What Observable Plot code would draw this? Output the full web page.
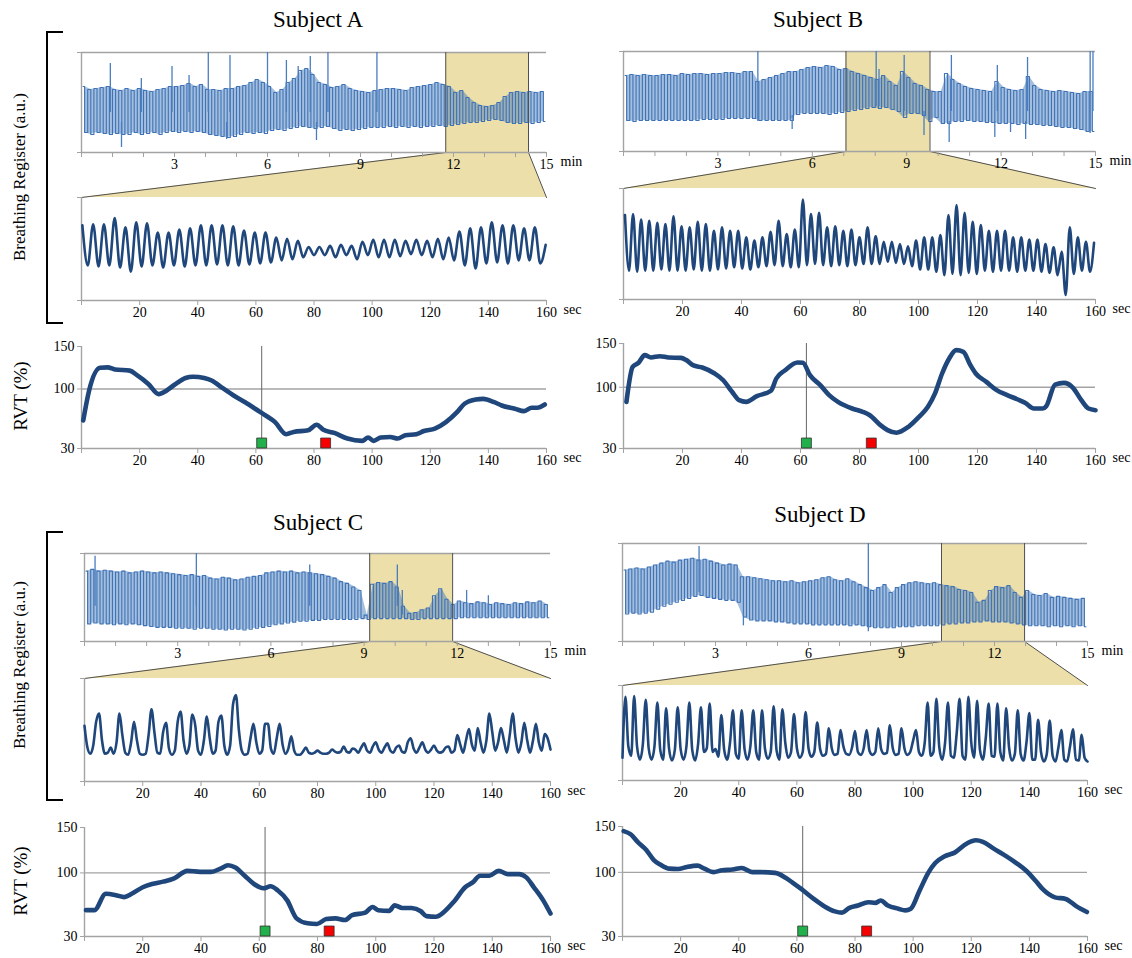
<!DOCTYPE html>
<html>
<head>
<meta charset="utf-8">
<script src="https://cdn.jsdelivr.net/npm/d3@7"></script>
<script src="https://cdn.jsdelivr.net/npm/@observablehq/plot@0.6"></script>
<style>
  body { margin: 0; background: #fff; }
  #fig { position: relative; width: 1132px; height: 958px; font-family: "Liberation Serif", "Times New Roman", serif; color: #000; }
  #fig svg text { font-family: "Liberation Serif", "Times New Roman", serif; }
  .title { position: absolute; font-size: 23px; transform: translate(-50%, -50%); white-space: nowrap; }
  .vlabel { position: absolute; transform: translate(-50%, -50%) rotate(-90deg); white-space: nowrap; }
  .bracket { position: absolute; border: 2px solid #000; border-right: none; width: 17px; box-sizing: border-box; }
</style>
</head>
<body>
<div id="fig"></div>
<script>
// ---------------------------------------------------------------------------
// Breathing recordings: 15-min overview (trace units 0-100), 160-s detail
// window (0-100) and respiration volume per time (RVT, %) for four subjects.
// Overview traces: one peak and one trough per 12-s window, plus isolated
// artefact spikes [min, low, high].
// ---------------------------------------------------------------------------

// ---- Subject A ----
const ovPeakA = [66,63,64,65,66, 63,62,64,62,64, 62,61,63,64,66, 66,67,69,66,68, 63,63,62,64,64,
  66,67,70,73,70, 66,60,63,70,74, 82,84,78,70,68, 65,66,68,64,62, 61,60,62,63,64,
  64,63,62,65,66, 67,68,70,68,66, 60,62,55,50,47, 46,47,50,56,60, 61,60,61,60,61];
const ovTroughA = [20,18,20,19,18, 19,18,18,20,18, 19,20,18,20,21, 20,21,20,21,20, 18,17,16,15,16,
  18,20,19,20,19, 22,23,22,24,25, 26,25,24,25,26, 24,22,23,22,23, 24,25,25,25,26,
  25,26,25,26,25, 26,26,27,26,27, 28,29,30,30,31, 32,33,32,30,29, 29,30,29,30,31];
const ovSpikeA = [[0.93,40,89],[1.29,5,30],[1.93,40,74],[2.92,40,86],[3.47,40,77],[4.09,40,100],
  [4.68,13,30],[4.79,40,97],[6.0,20,100],[6.61,40,92],[6.99,40,86],[7.38,40,96],[7.58,12,30],
  [7.95,40,100],[9.53,40,100]];
const spanA = [11.75, 14.42];
// detail window: alternating breath peaks and troughs
const zoomA = [73,34,74,33,74,34,80,32,71,28,76,33,75,34,66,32,66,34,69,33,70,34,73,34,73,35,73,34,72,34,68,35,66,36,66,37,
  61,39,60,40,58,42,52,44,52,44,53,42,54,44,53,40,57,44,59,42,59,42,59,43,58,45,59,44,58,42,60,40,61,39,
  67,34,70,31,71,36,76,37,73,36,73,39,70,39,71,36,54];
const rvtA = [[0.6,63],[2.6,98],[6.4,125],[9,125.5],[11.5,123],[16.6,121.6],[19.2,116],[23,106],[26.6,94],
  [28.2,96],[32,105],[35.8,113],[38.4,114.5],[42.2,113],[44.8,110],[48.6,101],[52.5,92],[56.3,84.5],
  [61.4,73],[66.6,61],[70.4,46.8],[73,49.5],[78,51.4],[80.9,58],[83.2,52],[87,48.3],[91.5,41.7],
  [96.6,39],[98.6,43],[100.5,39],[103,43],[106.2,43.6],[108.8,41.7],[111.4,45.6],[115.2,46.8],
  [117.8,50.6],[121.6,53.4],[125.4,61],[129.3,73],[131.8,82.6],[135.7,87.7],[138.2,88.4],[142,84.5],
  [144.6,80.6],[149.1,76.8],[152.3,74],[154.9,78],[156.8,78],[159.4,81.8]];

// ---- Subject B ----
const ovPeakB = [76,77,76,77,76, 76,77,77,76,78, 77,78,78,77,78, 78,79,79,78,80, 80,70,72,74,76,
  78,80,80,82,84, 85,84,86,85,82, 83,80,78,76,74, 72,76,70,66,80, 74,68,66,62,60,
  60,78,72,68,65, 63,62,61,60,70, 64,62,61,62,75, 66,62,61,60,61, 60,59,58,60,60];
const ovTroughB = [31,30,31,31,31, 31,31,31,31,31, 31,31,32,32,32, 32,33,33,33,33, 33,31,31,31,31,
  31,31,37,38,38, 38,38,37,38,39, 40,41,42,43,44, 43,44,42,40,34, 38,38,36,30,34,
  28,28,30,30,31, 30,30,29,29,28, 28,28,27,28,27, 27,26,26,25,24, 24,23,22,20,20];
const ovSpikeB = [[4.27,30,100],[5.36,22,36],[8.03,45,100],[8.12,45,82],[8.92,40,96],[9.55,16,40],
  [10.35,9,30],[10.42,40,96],[11.8,14,30],[11.88,40,86],[12.3,19,30],[12.78,12,30],[12.84,40,94],
  [14.83,18,100],[14.92,40,100]];
const spanB = [7.07, 9.74];
const zoomB = [76,26,77,25,72,26,71,26,69,27,68,26,75,26,66,26,65,27,70,26,
  68,26,62,27,65,28,62,29,62,28,56,27,53,29,56,30,61,31,71,30,
  59,29,63,29,90,31,77,32,78,31,65,30,66,31,62,30,63,31,56,32,
  65,32,57,32,52,34,52,33,50,32,48,30,53,27,56,27,56,25,58,22,
  76,23,85,22,78,24,70,23,67,26,62,25,62,26,62,26,56,25,56,26,
  54,26,54,25,50,24,47,22,43,4,65,23,56,26,52,25,51];
const rvtB = [[1,83.3],[3.1,123.3],[5.1,128],[7.2,136.7],[9.3,134],[12.3,135.5],[15.3,134],[19.5,133.6],
  [21.3,131],[23.7,125],[26.7,122.6],[30.9,115.7],[33.8,108],[36.8,94.8],[39.2,85.2],[41.6,83.3],
  [45.2,89.8],[50,96],[51.8,110],[54.8,119.5],[59,128.3],[60.8,127.9],[63.2,113.8],[66.7,102.4],
  [69.7,91],[72.7,83.3],[77.5,75.7],[81.1,71.9],[83.5,68],[87.1,56.7],[89.5,51],[92.5,48],[96.6,54.8],
  [100.2,66.2],[103.2,77.6],[105.6,92.9],[108,115.7],[110.4,132.9],[112.8,142.4],[115.2,140.5],
  [117.6,125.2],[119.4,115.7],[123,106.2],[126.5,96.7],[130.1,91],[133.7,86],[136.1,82.2],[139.1,75.7],
  [142.1,75.7],[143.3,78.4],[146.3,103.1],[149.3,105],[152.3,99.7],[155.2,85.2],[157.6,75.7],[160,73.8]];

// ---- Subject C ----
const ovPeakC = [80,82,80,81,80, 79,80,78,79,80, 79,78,79,78,77, 76,75,76,74,75, 72,71,73,72,70,
  71,73,74,75,78, 79,80,79,80,78, 79,78,77,76,74, 72,68,66,62,58, 30,65,67,66,68,
  62,40,32,33,36, 38,52,60,48,42, 46,44,43,45,44, 42,44,43,42,44, 43,45,44,46,42];
const ovTroughC = [20,21,20,20,19, 20,19,20,19,18, 17,16,16,16,15, 15,15,14,15,15, 14,14,13,14,14,
  13,14,15,16,17, 19,20,21,22,23, 23,24,24,25,25, 25,25,25,25,26, 25,26,26,26,26,
  26,26,25,25,26, 26,26,26,26,26, 27,27,27,27,27, 27,27,27,27,27, 27,27,27,27,27];
const ovSpikeC = [[0.34,40,97],[3.6,40,100],[7.25,40,87],[10.07,40,87],[10.23,30,58],[12.3,30,58],[13.0,30,52]];
const spanC = [9.18, 11.85];
// detail window: one sample per second
const zoomC = [54,33,27,35,58,66,40,27,28,33, 27,38,66,45,28,26,38,58,40,27,
  26,27,45,70,48,28,27,48,57,32, 26,30,58,68,40,27,35,65,55,30,
  26,40,63,42,27,30,58,64,35,26, 35,75,84,50,30,26,27,42,56,38,
  27,30,56,56,32,27,42,56,36,27, 32,44,30,26,26,29,33,28,27,28,
  30,28,27,27,28,31,29,28,29,34, 29,28,32,31,28,33,37,30,28,34,
  38,31,28,33,37,30,28,33,35,29, 28,38,42,32,28,33,38,31,28,31,
  35,30,28,29,33,34,28,30,45,36, 28,40,51,36,30,52,38,28,40,66,
  48,30,38,52,40,28,45,66,42,28, 38,57,40,28,40,56,38,30,46,42, 31];
const rvtC = [[0.5,59],[3.4,59],[7.3,77],[11.1,75.2],[13.6,73.4],[16.2,77],[20,84.2],[23.2,87.8],[27,90.4],
  [30.8,94],[35.3,102.3],[39.7,101.2],[43.5,101.2],[46.7,104.8],[49.3,108.4],[51.8,105.9],[55,96.9],
  [58.2,87.8],[61.4,83.1],[63.9,85.3],[66.4,80.6],[69.6,69.8],[72.8,50],[76.6,44.5],[79.8,43.7],
  [83,49.2],[86.2,50],[89.4,48.1],[91.9,53.5],[96.4,56.4],[98.9,62.5],[100.8,58.9],[104.6,58.2],
  [106.5,64.3],[109.1,61.4],[112.3,61.4],[115.5,57.8],[117.4,52.4],[120.6,51.7],[123.7,57.8],
  [126.9,68.6],[130.7,84.2],[133.3,89.6],[135.8,96.9],[139,96.9],[142.2,102.3],[145.4,98.7],
  [149.2,98.7],[151.7,95.1],[154.3,84.2],[157.5,69.8],[160,55.3]];

// ---- Subject D ----
const ovPeakD = [73,74,75,74,76, 78,80,82,81,83, 84,85,83,84,82, 80,78,79,78,66, 66,65,64,63,62,
  62,61,62,60,61, 62,63,65,66,63, 62,64,61,58,55, 52,55,58,50,55, 58,60,61,60,59,
  60,58,57,56,53, 52,50,40,42,52, 56,55,57,50,45, 52,48,47,49,45, 46,45,44,43,44];
const ovTroughD = [28,29,28,29,30, 33,36,38,40,42, 44,46,47,45,44, 43,42,42,40,25, 22,21,21,21,20,
  20,19,18,18,18, 17,17,17,17,17, 17,16,17,16,15, 14,14,14,14,15, 15,15,16,16,16,
  16,17,18,18,19, 19,20,20,21,20, 20,20,19,18,17, 16,16,16,15,16, 15,16,15,16,15];
const ovSpikeD = [[2.47,50,97],[3.9,16,30],[7.93,10,100]];
const spanD = [10.29, 12.97];
const zoomD = [24,88,36,26,89,36,22,38,85,34, 22,36,82,32,22,76,34,21,32,77,
  33,22,36,82,32,21,38,77,30,34, 81,30,33,25,69,32,22,40,74,28,
  23,74,33,22,36,74,30,22,74,34, 23,30,78,32,22,75,40,24,30,70,
  34,24,30,72,34,25,30,61,33,26, 28,55,34,27,28,53,36,28,27,35,
  52,30,27,34,53,31,27,30,55,33, 28,29,58,34,27,28,55,34,27,30,
  42,53,30,26,40,82,26,30,86,35, 22,40,82,26,24,50,86,26,22,88,
  40,24,84,32,22,45,81,26,25,81, 30,21,76,35,21,28,74,28,21,40,
  71,22,22,64,30,20,28,63,26,20, 35,53,22,20,36,54,22,21,48,24, 20];
const rvtD = [[0.4,145],[2.8,141.5],[5.2,133.3],[8.2,124.4],[10.7,113.7],[13.1,108.3],[16.1,104],[19.1,103.7],
  [22.2,105.9],[25.8,107.3],[28.2,104],[31.3,100.2],[34.3,102.3],[37.9,103],[41,104.8],[44.6,100.2],
  [47.6,100.2],[52.5,99.4],[56.1,94.1],[58.5,88.8],[61.6,81.6],[65.8,71],[69.4,63.1],[73.1,57.4],
  [75.5,56],[77.9,61],[81,63.8],[84.6,67.4],[87,66.7],[88.8,69.2],[91.3,63.8],[94.9,60.3],[97.3,58.5],
  [99.2,60.3],[102.2,79.9],[105.2,99.4],[107.6,110.1],[110.7,117.2],[114.3,121.5],[118.5,131.5],
  [121.6,135],[124,133.3],[127.6,126.1],[131.3,119],[135.5,110.1],[139.1,101.2],[142.2,90.5],
  [144.6,81.6],[148.8,72.7],[152.5,71],[156.1,63.1],[159.8,56.7]];

// cue onset (green) and offset (red), seconds into the detail window
const cueTimes = [62, 84];

// axis ticks and labels
const minTicks = d3.range(0, 16);
const secTicks = d3.range(0, 161, 20);
const rvtTicks = [30, 100, 150];

// ---------------------------------------------------------------------------
const FONT = "Liberation Serif, Times New Roman, serif";
const AXIS = "#a3a3a3";
const EDGE = "#4f4f4f";
const NAVY = "#1f477c";
const LIGHT = "#4a7dbe";
const SAND = "#eddfa9";
const fig = document.getElementById("fig");

// panel frames in page pixels
const layout = {
  A: {x: [81, 546], ov: [52, 152], zoom: [197, 300], rvt: [346, 448]},
  B: {x: [623, 1095], ov: [51, 151], zoom: [188, 299], rvt: [343, 448]},
  C: {x: [84, 550], ov: [553, 641], zoom: [678, 781], rvt: [827, 936]},
  D: {x: [622, 1087], ov: [543, 641], zoom: [685, 780], rvt: [826, 936]}
};

const ML = 46, MR = 44, MT = 4, MB = 26;
const style = {background: "transparent", overflow: "visible", fontFamily: FONT, fontSize: "14px", color: "#000"};
const textOpts = {fontFamily: FONT, fontSize: 14};

function mount(chart, x0, y0) {
  chart.style.position = "absolute";
  chart.style.left = (x0 - ML) + "px";
  chart.style.top = (y0 - MT) + "px";
  fig.appendChild(chart);
}

function unitLabel(text, dx) {
  return Plot.text([text], {frameAnchor: "bottom-right", dx, dy: 13, textAnchor: "start", ...textOpts});
}

function frameAxes(yMin, yTicks, yFormat) {
  return [
    Plot.ruleX([0], {stroke: AXIS, strokeWidth: 1.4}),
    Plot.ruleY([yMin], {stroke: AXIS, strokeWidth: 1.4}),
    Plot.axisY({ticks: yTicks, tickFormat: yFormat, tickSize: 4, tickPadding: 3, stroke: AXIS, fill: "#000", label: null, ...textOpts})
  ];
}

function timeAxis(ticks, format) {
  return Plot.axisX({ticks, tickFormat: format, tickSize: 5, tickPadding: 2, stroke: AXIS, fill: "#000", label: null, ...textOpts});
}

function drawOverview(L, peaks, troughs, spikes, span) {
  const [x0, x1] = L.x, [y0, y1] = L.ov;
  const w = x1 - x0, h = y1 - y0, gap = L.zoom[0] - y1;
  const step = 15 / peaks.length;
  const zig = peaks.flatMap((p, i) => [{t: (i + 0.25) * step, v: p}, {t: (i + 0.75) * step, v: troughs[i]}]);
  const band = peaks.map((p, i) => ({t: (i + 0.5) * step, lo: troughs[i], hi: p}));
  // the fan reaches down to the top of the detail panel
  const foot = -100 * gap / h;
  const fan = [{y: 0, a: span[0], b: span[1]}, {y: foot, a: 0, b: 15}];
  const fanEdges = [
    {k: 0, x: span[0], y: 0}, {k: 0, x: 0, y: foot},
    {k: 1, x: span[1], y: 0}, {k: 1, x: 15, y: foot}
  ];
  const chart = Plot.plot({
    width: ML + w + MR, height: MT + h + gap,
    marginLeft: ML, marginRight: MR, marginTop: MT, marginBottom: gap,
    style,
    x: {domain: [0, 15]},
    y: {domain: [0, 100]},
    marks: [
      Plot.rect([span], {x1: d => d[0], x2: d => d[1], y1: 0, y2: 100, fill: SAND}),
      Plot.areaX(fan, {y: "y", x1: "a", x2: "b", fill: SAND}),
      Plot.line(fanEdges, {x: "x", y: "y", z: "k", stroke: EDGE, strokeWidth: 1}),
      Plot.ruleY([100], {stroke: AXIS, strokeWidth: 1.4}),
      Plot.areaY(band, {x: "t", y1: "lo", y2: "hi", fill: LIGHT, fillOpacity: 0.5}),
      Plot.line(zig, {x: "t", y: "v", stroke: "#3f73b6", strokeWidth: 1.1, curve: "step"}),
      Plot.ruleX(spikes, {x: d => d[0], y1: d => d[1], y2: d => d[2], stroke: LIGHT, strokeWidth: 1.3}),
      Plot.ruleX(span, {y1: 0, y2: 100, stroke: EDGE, strokeWidth: 1}),
      ...frameAxes(0, [0, 100], () => ""),
      timeAxis(minTicks, d => (d > 0 && d % 3 === 0 ? d : "")),
      unitLabel("min", 14)
    ]
  });
  mount(chart, x0, y0);
}

function drawZoom(L, values, t0, t1) {
  const [x0, x1] = L.x, [y0, y1] = L.zoom;
  const w = x1 - x0, h = y1 - y0;
  const dt = (t1 - t0) / (values.length - 1);
  const pts = values.map((v, i) => ({t: t0 + i * dt, v}));
  const chart = Plot.plot({
    width: ML + w + MR, height: MT + h + MB,
    marginLeft: ML, marginRight: MR, marginTop: MT, marginBottom: MB,
    style,
    x: {domain: [0, 160]},
    y: {domain: [0, 100]},
    marks: [
      ...frameAxes(0, [0, 100], () => ""),
      Plot.line(pts, {x: "t", y: "v", stroke: NAVY, strokeWidth: 2.6, curve: "monotone-x", strokeLinejoin: "round"}),
      timeAxis(secTicks, d => (d ? d : "")),
      unitLabel("sec", 17)
    ]
  });
  mount(chart, x0, y0);
}

function drawRvt(L, curve) {
  const [x0, x1] = L.x, [y0, y1] = L.rvt;
  const w = x1 - x0, h = y1 - y0;
  const chart = Plot.plot({
    width: ML + w + MR, height: MT + h + MB,
    marginLeft: ML, marginRight: MR, marginTop: MT, marginBottom: MB,
    style,
    x: {domain: [0, 160]},
    y: {domain: [30, 150]},
    marks: [
      Plot.ruleY([100], {stroke: AXIS, strokeWidth: 1.3}),
      Plot.ruleX([cueTimes[0]], {stroke: "#666", strokeWidth: 1}),
      ...frameAxes(30, rvtTicks, d => d),
      Plot.line(curve, {x: d => d[0], y: d => d[1], stroke: NAVY, strokeWidth: 4.6, curve: "monotone-x",
        strokeLinejoin: "round", strokeLinecap: "round"}),
      Plot.dot([cueTimes[0]], {x: d => d, y: 30, dy: -5.5, symbol: "square", r: 5.6, fill: "#22b04b", stroke: "#2f2f2f", strokeWidth: 0.8}),
      Plot.dot([cueTimes[1]], {x: d => d, y: 30, dy: -5.5, symbol: "square", r: 5.6, fill: "#f60000", stroke: "#2f2f2f", strokeWidth: 0.8}),
      timeAxis(secTicks, d => (d ? d : "")),
      unitLabel("sec", 17)
    ]
  });
  mount(chart, x0, y0);
}

const subjects = [
  {key: "A", ov: [ovPeakA, ovTroughA, ovSpikeA, spanA], zoom: [zoomA, 0.3, 159.7], rvt: rvtA},
  {key: "B", ov: [ovPeakB, ovTroughB, ovSpikeB, spanB], zoom: [zoomB, 0.5, 159.5], rvt: rvtB},
  {key: "C", ov: [ovPeakC, ovTroughC, ovSpikeC, spanC], zoom: [zoomC, 0, 160], rvt: rvtC},
  {key: "D", ov: [ovPeakD, ovTroughD, ovSpikeD, spanD], zoom: [zoomD, 0, 160], rvt: rvtD}
];

for (const s of subjects) {
  const L = layout[s.key];
  drawOverview(L, ...s.ov);
  drawZoom(L, ...s.zoom);
  drawRvt(L, s.rvt);
}

// titles, side labels and brackets
function addDiv(cls, text, css) {
  const d = document.createElement("div");
  d.className = cls;
  if (text) d.textContent = text;
  Object.assign(d.style, css);
  fig.appendChild(d);
}
addDiv("title", "Subject A", {left: "318px", top: "20px"});
addDiv("title", "Subject B", {left: "818px", top: "20px"});
addDiv("title", "Subject C", {left: "318px", top: "523px"});
addDiv("title", "Subject D", {left: "820px", top: "515px"});
addDiv("vlabel", "Breathing Register (a.u.)", {left: "20px", top: "177px", fontSize: "17px"});
addDiv("vlabel", "Breathing Register (a.u.)", {left: "20px", top: "665px", fontSize: "17px"});
addDiv("vlabel", "RVT (%)", {left: "21px", top: "396px", fontSize: "19px"});
addDiv("vlabel", "RVT (%)", {left: "21px", top: "881px", fontSize: "19px"});
addDiv("bracket", "", {left: "46px", top: "31px", height: "293px"});
addDiv("bracket", "", {left: "46px", top: "531px", height: "270px"});
</script>
</body>
</html>
